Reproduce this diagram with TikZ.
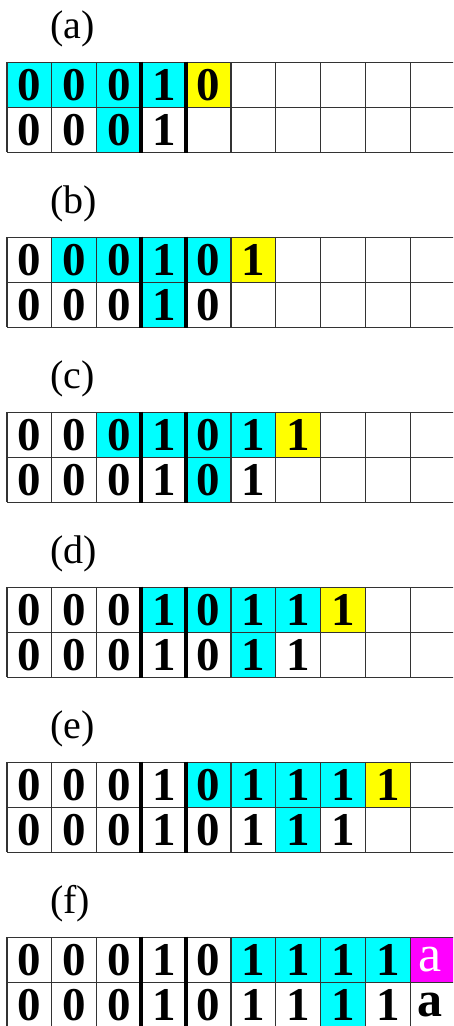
\documentclass[tikz,border=0pt]{standalone}
\usepackage{fontspec}
\setmainfont{Liberation Serif}
\definecolor{cyanfill}{HTML}{00FFFF}
\definecolor{yellowfill}{HTML}{FFFF00}
\definecolor{magentafill}{HTML}{FF00FF}
\definecolor{gridgrey}{HTML}{333333}
\tikzset{
  digit/.style={inner sep=0pt, text=black, font=\fontsize{47}{47}\selectfont\bfseries},
  letterw/.style={inner sep=0pt, text=white, font=\fontsize{52}{52}\selectfont},
  letterb/.style={inner sep=0pt, text=black, font=\fontsize{50}{50}\selectfont\bfseries},
  lbl/.style={inner sep=0pt, anchor=base west, font=\fontsize{40}{40}\selectfont},
  gridline/.style={draw=gridgrey, line width=1.3pt},
  thickline/.style={draw=black, line width=4pt},
}
% #1 panel index, #2 label, #3 row-1 entries, #4 row-2 entries, #5 first cyan column, #6 last-cell colour
\newcommand{\drawpanel}[6]{%
  \pgfmathsetmacro{\T}{62.3+175*#1}
  \node[lbl] (lab#1) at (50,{\T-24}) {#2};
  \foreach \c in {0,...,3} {
    \fill[cyanfill] ({7+44.8*(#5+\c-1)},{\T}) rectangle ++(44.8,45);
  }
  \fill[#6] ({7+44.8*(#5+3)},{\T}) rectangle ++(44.8,45);
  \fill[cyanfill] ({7+44.8*(#5+1)},{\T+45}) rectangle ++(44.8,45);
  \foreach \yy in {0,45,90} {
    \draw[gridline] (7,{\T+\yy}) -- (470,{\T+\yy});
  }
  \foreach \xx in {0,1,2,5,6,7,8,9,10} {
    \draw[gridline] ({7+44.8*\xx},{\T}) -- ({7+44.8*\xx},{\T+90});
  }
  \foreach \xx in {3,4} {
    \draw[thickline] ({7+44.8*\xx},{\T-0.6}) -- ({7+44.8*\xx},{\T+90.6});
  }
  \foreach \d [count=\i] in {#3} {
    \node[digit] (p#1r1c\i) at ({7+44.8*(\i-0.5)},{\T+22.5}) {\d};
  }
  \foreach \d [count=\i] in {#4} {
    \node[digit] (p#1r2c\i) at ({7+44.8*(\i-0.5)},{\T+67.5}) {\d};
  }
}
\begin{document}
\begin{tikzpicture}[x=1pt,y=-1pt]
  \useasboundingbox (0,0) rectangle (453,1026);
  \clip (0,0) rectangle (453,1026);
  \fill[white] (0,0) rectangle (453,1026);
  \drawpanel{0}{(a)}{0,0,0,1,0}{0,0,0,1}{1}{yellowfill}
  \drawpanel{1}{(b)}{0,0,0,1,0,1}{0,0,0,1,0}{2}{yellowfill}
  \drawpanel{2}{(c)}{0,0,0,1,0,1,1}{0,0,0,1,0,1}{3}{yellowfill}
  \drawpanel{3}{(d)}{0,0,0,1,0,1,1,1}{0,0,0,1,0,1,1}{4}{yellowfill}
  \drawpanel{4}{(e)}{0,0,0,1,0,1,1,1,1}{0,0,0,1,0,1,1,1}{5}{yellowfill}
  \drawpanel{5}{(f)}{0,0,0,1,0,1,1,1,1}{0,0,0,1,0,1,1,1,1}{6}{magentafill}
  \node[letterw] (p5r1c10) at ({7+44.8*9.45},{62.3+175*5+22.5}) {a};
  \node[letterb] (p5r2c10) at ({7+44.8*9.45},{62.3+175*5+67.5}) {a};
\end{tikzpicture}
\end{document}
